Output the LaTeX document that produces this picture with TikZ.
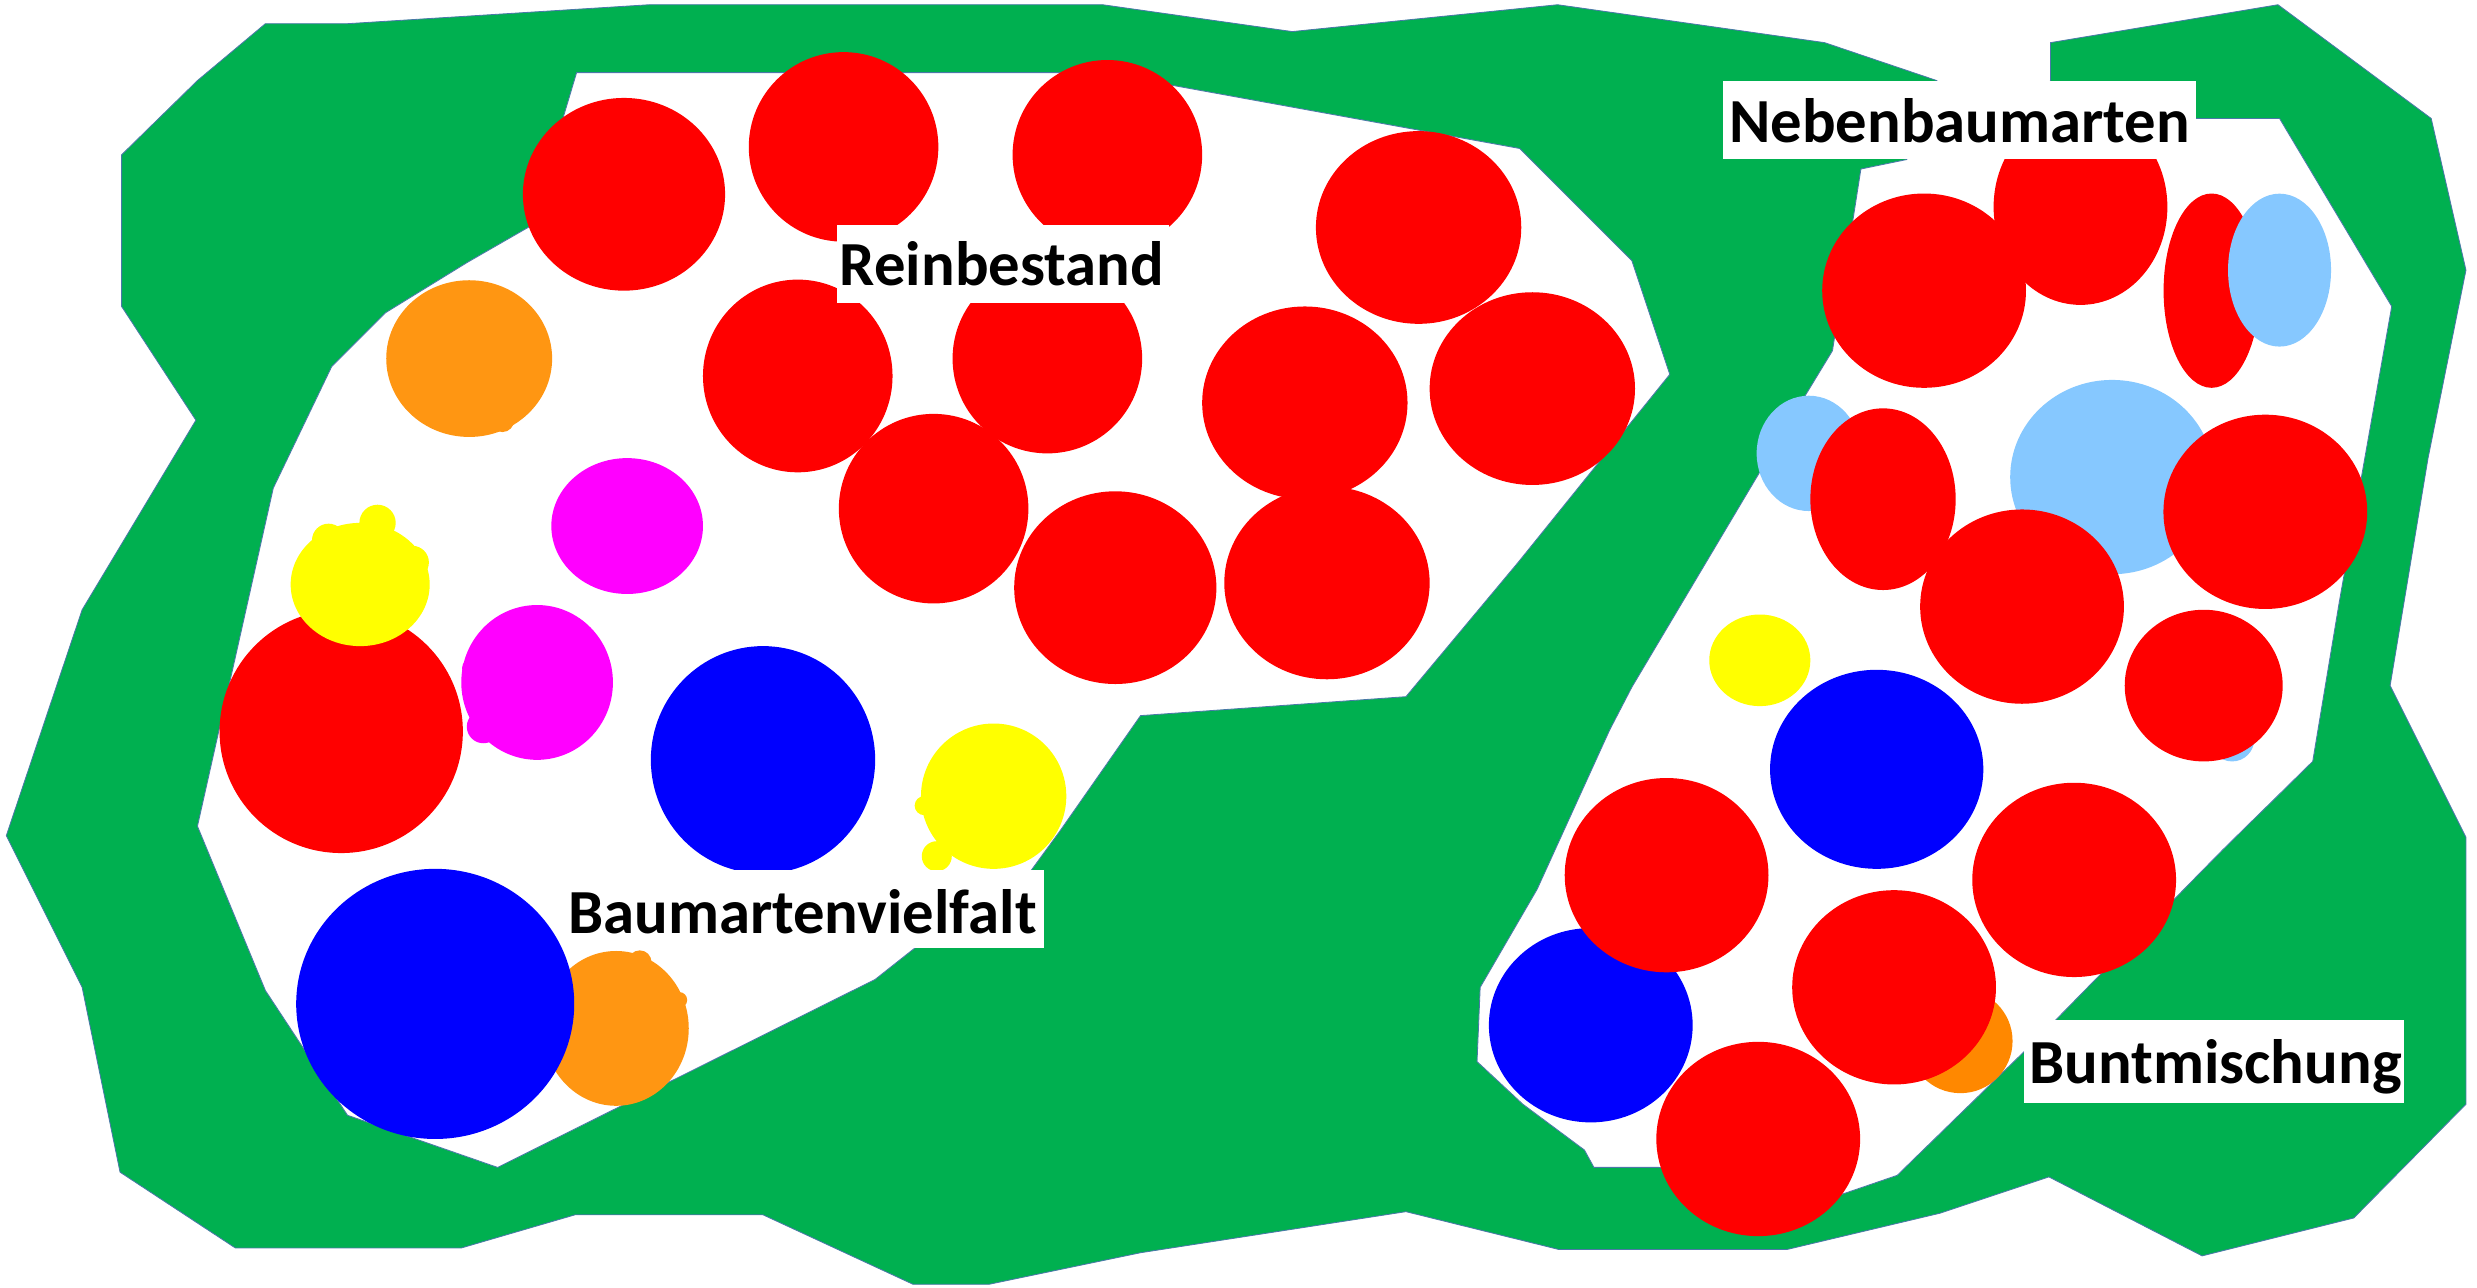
\documentclass[tikz,border=0pt]{standalone}
\usepackage{fontspec}
\setmainfont{Carlito}
\definecolor{forest}{HTML}{00B050}
\definecolor{edgeblue}{HTML}{4A78A8}
\definecolor{cred}{HTML}{FF0000}
\definecolor{cblue}{HTML}{0000FF}
\definecolor{cyel}{HTML}{FFFF00}
\definecolor{cmag}{HTML}{FF00FF}
\definecolor{clblue}{HTML}{86C8FF}
\definecolor{corange}{HTML}{FF9612}
\definecolor{corange2}{HTML}{FF8800}
\tikzset{
  area/.style={fill=forest, draw=edgeblue, line width=0.15pt, line join=miter},
  clearing/.style={fill=white, draw=edgeblue, line width=0.15pt, line join=miter},
  lblbox/.style={fill=white},
  lbltxt/.style={anchor=base west, inner sep=0pt, font=\bfseries\fontsize{11.3}{13}\selectfont}
}
\begin{document}
\begin{tikzpicture}[x=0.1mm,y=-0.1mm]
\useasboundingbox (0,0) rectangle (1568,815.3);
\fill[white] (0,0) rectangle (1568,815.3);

% green area (outer outline)
\path[area] (168,15) -- (220,15) -- (411,3) -- (698,3) -- (818,20) -- (986,3) -- (1155,27) -- (1226,51)
  -- (1240,70) -- (1290,70) -- (1298,51) -- (1298,27) -- (1442,3) -- (1539,75) -- (1561,171)
  -- (1537,290) -- (1513,434) -- (1561,530) -- (1561,699) -- (1490,771) -- (1394,795)
  -- (1297,745) -- (1228,768) -- (1131,791) -- (987,791) -- (890,767) -- (722,793) -- (626,813)
  -- (578,813) -- (483,769) -- (364,769) -- (292,790) -- (149,790) -- (76,742) -- (52,625)
  -- (4,529) -- (52,386) -- (124,266) -- (77,194) -- (77,98) -- (125,51) -- cycle;

% left clearing
\path[clearing] (365,46) -- (698,46) -- (962,94) -- (1033,165) -- (1057,237) -- (961,356) -- (890,441)
  -- (722,453) -- (671,526) -- (652,552) -- (600,585) -- (578,601) -- (554,620) -- (315,739)
  -- (220,706) -- (168,627) -- (125,523) -- (173,309) -- (210,232) -- (244,198) -- (296,166)
  -- (336,143) -- cycle;

% right clearing
\path[clearing] (1178,107) -- (1207,101) -- (1215,75) -- (1443,75) -- (1514,194) -- (1481,380)
  -- (1464,482) -- (1407,538) -- (1300,647) -- (1281,666) -- (1201,744) -- (1166,756) -- (1050,739)
  -- (1009,739) -- (1003,728) -- (964,699) -- (935,672) -- (937,625) -- (973,563) -- (1019,462)
  -- (1033,435) -- (1143,250) -- (1160,222) -- cycle;

% ---- left clearing trees ----
\fill[cred] (395,123) ellipse [x radius=64, y radius=61];
\fill[cred] (534,93) ellipse [x radius=60, y radius=60];
\fill[cred] (701,98) ellipse [x radius=60, y radius=60];
\fill[cred] (898,144) ellipse [x radius=65, y radius=61];
\fill[corange] (297,227) ellipse [x radius=52.5, y radius=49.6];
\fill[corange] (318,266) circle [radius=7.5];
\fill[cred] (505,238) ellipse [x radius=60, y radius=61];
\fill[cred] (663,227) ellipse [x radius=60, y radius=60];
\fill[cred] (826,255) ellipse [x radius=65, y radius=61];
\fill[cred] (970,246) ellipse [x radius=65, y radius=61];
\fill[cmag] (397,333) ellipse [x radius=48, y radius=43];
\fill[cred] (591,322) ellipse [x radius=60, y radius=60];
\fill[cred] (706,372) ellipse [x radius=64, y radius=61];
\fill[cred] (840,369) ellipse [x radius=65, y radius=61];
\fill[cred] (216,463) ellipse [x radius=77, y radius=77];
\fill[cyel] (228,370) ellipse [x radius=44, y radius=39];
\fill[cyel] (239,331) circle [radius=11.5];
\fill[cyel] (208,342) circle [radius=10.5];
\fill[cyel] (261,356) circle [radius=10.5];
\fill[cmag] (340,432) ellipse [x radius=48, y radius=49];
\fill[cmag] (299,423) circle [radius=6.5];
\fill[cmag] (306,460) circle [radius=10.5];
\fill[cblue] (483,481) ellipse [x radius=71, y radius=72];
\fill[cyel] (629,504) ellipse [x radius=46, y radius=46];
\fill[cyel] (585,510) circle [radius=6];
\fill[cyel] (593,542) circle [radius=9.5];
\fill[corange] (390,651) ellipse [x radius=46, y radius=49];
\fill[corange] (405,609) circle [radius=7.4];
\fill[corange] (430,633) circle [radius=5];
\fill[cblue] (275.5,635.5) ellipse [x radius=88, y radius=85.5];

% ---- right clearing trees ----
\fill[cred] (1317,131) ellipse [x radius=55, y radius=62];
\fill[cred] (1218,184) ellipse [x radius=64.5, y radius=61.5];
\fill[cred] (1400,184) ellipse [x radius=30.4, y radius=61.5];
\fill[clblue] (1443,171) ellipse [x radius=32.6, y radius=48.4];
\fill[clblue] (1145,287) ellipse [x radius=33, y radius=36.5];
\fill[cred] (1192,316) ellipse [x radius=46, y radius=57.5];
\fill[clblue] (1337,302) ellipse [x radius=64.5, y radius=61.5];
\fill[cred] (1280,384) ellipse [x radius=64.5, y radius=61.5];
\fill[cred] (1434,324) ellipse [x radius=64.5, y radius=61.5];
\fill[clblue] (1413,468) circle [radius=14];
\fill[cred] (1395,434) ellipse [x radius=50, y radius=48];
\fill[cyel] (1114,418) ellipse [x radius=32, y radius=29];
\fill[cblue] (1188,487) ellipse [x radius=67.5, y radius=63];
\fill[cblue] (1007,649) ellipse [x radius=64.5, y radius=61.5];
\fill[cred] (1055,554) ellipse [x radius=64.5, y radius=61.5];
\fill[cred] (1313,557) ellipse [x radius=64.5, y radius=61.5];
\fill[corange2] (1241,659) ellipse [x radius=33, y radius=33];
\fill[cred] (1199,625) ellipse [x radius=64.5, y radius=61.5];
\fill[cred] (1113,721) ellipse [x radius=64.5, y radius=61.5];

% ---- labels ----
\fill[lblbox] (530,142.5) rectangle (740,192);
\node[lbltxt] (rein) at (531,181) {Reinbestand};
\fill[lblbox] (1091,51) rectangle (1390,100.5);
\node[lbltxt] (neben) at (1094,90) {Nebenbaumarten};
\fill[lblbox] (357,551) rectangle (661,600);
\node[lbltxt] (vielfalt) at (359,591) {Baumartenvielfalt};
\fill[lblbox] (1281,646) rectangle (1522,698);
\node[lbltxt] (bunt) at (1284,686) {Buntmischung};
\end{tikzpicture}
\end{document}
